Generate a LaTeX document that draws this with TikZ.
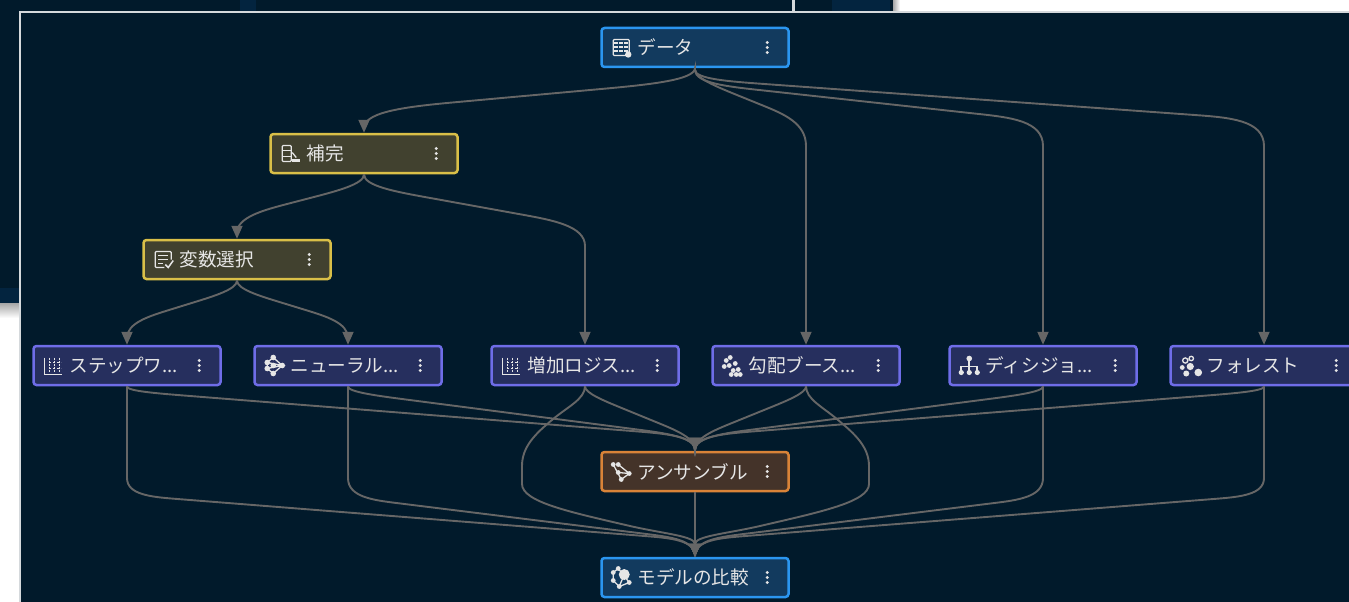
\documentclass[tikz,border=0pt]{standalone}
\usepackage{fontspec}
\setmainfont{Noto Sans CJK JP}
\usetikzlibrary{calc,arrows.meta}
\definecolor{bgdark}{HTML}{011A2B}
\definecolor{behind}{HTML}{011A2B}
\definecolor{behindb}{HTML}{03243F}
\definecolor{frameC}{HTML}{D5D9DC}
\definecolor{edgeC}{HTML}{666666}
\definecolor{txtC}{HTML}{E6E6E6}
\definecolor{blueB}{HTML}{2B96F0}\definecolor{blueF}{HTML}{123A5E}
\definecolor{yelB}{HTML}{D9BF48}\definecolor{yelF}{HTML}{41412F}
\definecolor{purB}{HTML}{6F6DE8}\definecolor{purF}{HTML}{262F5E}
\definecolor{oraB}{HTML}{D98338}\definecolor{oraF}{HTML}{443329}
\tikzset{
 x=1pt,y=-1pt,
 boxbase/.style={rectangle,rounded corners=3pt,line width=2.5pt,minimum width=187pt,minimum height=39pt,inner sep=0pt,text=txtC,font=\fontsize{18.6}{20}\selectfont},
 bluebox/.style={boxbase,draw=blueB,fill=blueF},
 yelbox/.style={boxbase,draw=yelB,fill=yelF},
 purbox/.style={boxbase,draw=purB,fill=purF},
 orabox/.style={boxbase,draw=oraB,fill=oraF},
 conn/.style={draw=edgeC,line width=1.9pt},
 tip/.style={-{Triangle[length=13pt,width=11pt]}},
 ic/.style={draw=txtC,line width=1.3pt,fill=none},
 icf/.style={fill=txtC,draw=none},
}
% #1 name, #2 style, #3 x, #4 y, #5 icon code, #6 text
\newcommand\flownode[6]{%
 \node[#2] (#1) at (#3,#4) {\makebox[187pt][l]{\hspace{36pt}#6}};
 \begin{scope}[shift={($(#1.west)+(21,0)$)}]#5\end{scope}
 \foreach \yy in {-5,0,5}{\fill[txtC] ($(#1.west)+(167,\yy)$) circle (1.6pt);}
}
% from, to, y1 (end of first straight), yP, yQ, yE (start of last straight), r
\newcommand\flowedge[7]{%
 \draw[conn,tip] (#1.south) -- (#1.south |- 0,#3)
  .. controls (#1.south |- 0,#4) and ($(#1.south |- 0,#4)!0.5*#7pt!(#2.north |- 0,#5)$)
  .. ($(#1.south |- 0,#4)!#7pt!(#2.north |- 0,#5)$)
  -- ($(#2.north |- 0,#5)!#7pt!(#1.south |- 0,#4)$)
  .. controls ($(#2.north |- 0,#5)!0.5*#7pt!(#1.south |- 0,#4)$) and (#2.north |- 0,#5)
  .. (#2.north |- 0,#6) -- (#2.north);
}
\newcommand\icTable{\draw[ic,rounded corners=1pt] (-8,-8) rectangle (8,8);
 \foreach \a in {-4,0,4}{\draw[ic,line width=2pt,dash pattern=on 4pt off 1pt] (-7,\a)--(7,\a);}
 \fill[txtC] (7,7) circle (3.2pt);}
\newcommand\icImpute{\draw[ic,rounded corners=1pt] (-8,-8) rectangle (1,8);
 \draw[ic] (-8,-3)--(1,-3) (-8,3)--(1,3);
 \draw[ic] (2,-1)--(6,4);\fill[txtC] (2,5) rectangle (10,8);}
\newcommand\icSelect{\draw[ic,rounded corners=1pt] (8,0)--(8,-8)--(-8,-8)--(-8,8)--(1,8);
 \draw[ic] (-5,-4)--(5,-4) (-5,0)--(5,0) (-5,4)--(0,4);
 \draw[ic,line width=1.5pt] (2,5)--(5,8)--(10,1);}
\newcommand\icBars{\draw[ic] (-9,-8)--(-9,9)--(9,9);
 \foreach \a in {-4,1,6}{\draw[ic,dash pattern=on 2pt off 1pt] (\a,-8)--(\a,7);}
 \draw[ic,dash pattern=on 2pt off 2pt] (-4,3)--(8,3) (-4,-3)--(8,-3);}
\newcommand\icNeural{\foreach \a/\b in {-7/-3,-7/3,-1/-8,-1/0,-1/8,8/0}{\fill[txtC] (\a,\b) circle (2.8pt);}
 \draw[ic] (-7,-3)--(-1,-8)--(8,0)--(-1,8)--(-7,3)--cycle (-7,-3)--(8,0)--(-7,3);}
\newcommand\icGrad{\foreach \a/\b in {-6/-5,-2/-8,-8/1,-3/0,3/-2,1/5,6/4,-1/9,8/9,4/9}{\fill[txtC] (\a,\b) circle (2.4pt);}}
\newcommand\icTree{\fill[txtC] (0,-7) circle (2.8pt) (-8,7) circle (2.6pt) (0,7) circle (2.6pt) (8,7) circle (2.6pt);
 \draw[ic,line width=1.6pt] (0,-7)--(0,7) (-8,7)--(-8,1)--(8,1)--(8,7);}
\newcommand\icForest{\draw[ic] (-5,-5) circle (2.6pt) (1,-7) circle (2.2pt);
 \fill[txtC] (-8,2) circle (2.4pt) (0,1) circle (3.6pt) (-4,8) circle (3pt) (8,7) circle (3.8pt);}
\newcommand\icEnsemble{\foreach \a/\b in {-8/-7,-3/-7,-3/1,8/2,0/8}{\fill[txtC] (\a,\b) circle (2.4pt);}
 \draw[ic] (-8,-7)--(0,8)--(8,2)--(-3,-7) (-3,1)--(8,2);}
\newcommand\icCompare{\foreach \a/\b in {-8/-5,-8/3,-3/-9,-2/9,8/5}{\fill[txtC] (\a,\b) circle (2.4pt);}
 \fill[txtC] (3,-3) circle (5.5pt);
 \draw[ic] (-8,-5)--(-8,3)--(-2,9)--(8,5)--(-3,-9)--cycle (-2,9)--(3,-3);}
\begin{document}
\begin{tikzpicture}
\useasboundingbox (0,0) rectangle (1349,602);
\clip (0,0) rectangle (1349,602);
\fill[white] (0,0) rectangle (1349,602);
% shadows of the windows
\shade[top color=black!35,bottom color=white] (0,303) rectangle (19,318);
\shade[left color=black!35,right color=white] (893,0) rectangle (900,11);
% windows behind
\fill[behind] (0,0) rectangle (893,11);
\fill[behindb] (240,0) rectangle (256,11);
\fill[behindb] (832,0) rectangle (890,11);
\fill[frameC] (792,0) rectangle (795,11);
\fill[behind] (0,0) rectangle (19,288);
\fill[behindb] (0,288) rectangle (19,303);
% front window
\draw[frameC,line width=2pt,fill=bgdark] (20,12) rectangle (1360,620);
% nodes
\flownode{data}{bluebox}{695}{47.5}{\icTable}{データ}
\flownode{impute}{yelbox}{364}{153.5}{\icImpute}{補完}
\flownode{select}{yelbox}{237}{259.5}{\icSelect}{変数選択}
\flownode{step}{purbox}{127}{365.5}{\icBars}{ステップワ...}
\flownode{neural}{purbox}{348}{365.5}{\icNeural}{ニューラル...}
\flownode{incr}{purbox}{585}{365.5}{\icBars}{増加ロジス...}
\flownode{grad}{purbox}{806}{365.5}{\icGrad}{勾配ブース...}
\flownode{tree}{purbox}{1043}{365.5}{\icTree}{ディシジョ...}
\flownode{forest}{purbox}{1264}{365.5}{\icForest}{フォレスト}
\flownode{ens}{orabox}{695}{471.5}{\icEnsemble}{アンサンブル}
\flownode{cmp}{bluebox}{695}{577.5}{\icCompare}{モデルの比較}
% top edges
\flowedge{data}{impute}{68}{80.5}{110.5}{128}{100}
\flowedge{data}{grad}{70}{78}{123}{146}{48}
\flowedge{data}{tree}{70}{83}{121}{146}{65}
\flowedge{data}{forest}{70}{79}{120}{146}{70}
\flowedge{impute}{select}{174.5}{184}{217}{233}{55}
\flowedge{impute}{incr}{174.5}{186}{226}{246}{65}
\flowedge{select}{step}{280.5}{289}{323}{338}{45}
\flowedge{select}{neural}{280.5}{289}{323}{338}{45}
% middle edges to ensemble
\flowedge{step}{ens}{386.5}{391}{436}{450}{60}
\flowedge{neural}{ens}{386.5}{392}{437}{450}{60}
\flowedge{incr}{ens}{386.5}{393}{438}{450}{40}
\flowedge{grad}{ens}{386.5}{393}{438}{450}{40}
\flowedge{tree}{ens}{386.5}{392}{437}{450}{60}
\flowedge{forest}{ens}{386.5}{391}{436}{450}{60}
% to comparison
\flowedge{step}{cmp}{478}{495}{540}{556}{50}
\flowedge{neural}{cmp}{478}{497}{540}{556}{50}
\flowedge{tree}{cmp}{478}{497}{540}{556}{50}
\flowedge{forest}{cmp}{478}{495}{540}{556}{50}
\draw[conn,tip] (incr.south) .. controls +(0,13) and (567,407) .. (552,420) .. controls (535,434) and (522,447) .. (522,466) -- (522,484) .. controls (522,502) and (570,512) .. (630,526) .. controls (665,534) and (695,536) .. (cmp.north);
\draw[conn,tip] (grad.south) .. controls +(0,13) and (823,407) .. (838,420) .. controls (855,434) and (869,447) .. (869,466) -- (869,484) .. controls (869,502) and (820,512) .. (760,526) .. controls (725,534) and (695,536) .. (cmp.north);
\draw[conn,tip] (ens.south) -- (cmp.north);
\end{tikzpicture}
\end{document}
